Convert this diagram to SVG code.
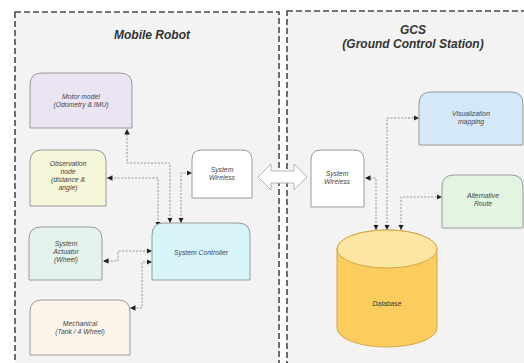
<svg xmlns="http://www.w3.org/2000/svg" width="524" height="363" viewBox="0 0 524 363">
<style>
.panel{fill:#f3f3f3;stroke:#4a4a4a;stroke-width:1.6;stroke-dasharray:6,3}
.title{font-family:"Liberation Sans",Arial,sans-serif;font-size:12px;font-weight:bold;font-style:italic;fill:#333;text-anchor:middle}
.node{stroke:#9a9a9a;stroke-width:1}
.lbl{font-family:"Liberation Sans",Arial,sans-serif;font-size:6.8px;font-style:italic;fill:#444;text-anchor:middle}
.conn{fill:none;stroke:#7a7a7a;stroke-width:0.8;stroke-dasharray:2,1.5;marker-start:url(#arr);marker-end:url(#arr)}
</style>
<defs>
<marker id="arr" viewBox="0 0 6 6" refX="6" refY="3" markerUnits="userSpaceOnUse" markerWidth="5.5" markerHeight="5.5" orient="auto-start-reverse">
<path d="M0,0 L6,3 L0,6 z" fill="#222"/>
</marker>
</defs>
<rect width="524" height="363" fill="#fff"/>
<g id="panel-robot">
<rect class="panel" x="15" y="12" width="264" height="360"/>
<text class="title" x="152" y="39">Mobile Robot</text>
</g>
<g id="panel-gcs">
<rect class="panel" x="287" y="11" width="250" height="360"/>
<text class="title" x="413" y="34">GCS</text>
<text class="title" x="413" y="48">(Ground Control Station)</text>
</g>
<g id="connectors">
<path class="conn" d="M170,223 V163 H127 V129"/>
<path class="conn" d="M181,223 V173 H192"/>
<path class="conn" d="M158,227 V178 H107"/>
<path class="conn" d="M152,251 H118 V261 H103"/>
<path class="conn" d="M152,262 H142 V308 H130"/>
<path class="conn" d="M376,230 V178 H365"/>
<path class="conn" d="M387,230 V118 H419"/>
<path class="conn" d="M401,230 V197 H442"/>
<path d="M258,177 L271,164 V171 H294 V164 L307,177 L294,190 V183 H271 V190 Z" fill="#fff" stroke="#b5b5b5" stroke-width="1"/>
</g>
<g id="motor-model">
<path class="node" fill="#ebe4f3" d="M30,85 Q30,73 42,73 H120 Q132,73 132,85 V128 H30 Z"/>
<text class="lbl" x="81" y="99">Motor model</text>
<text class="lbl" x="81" y="107">(Odometry &amp; IMU)</text>
</g>
<g id="observation-node">
<path class="node" fill="#f6f6d9" d="M30,162 Q30,150 42,150 H94 Q106,150 106,162 V206 H30 Z"/>
<text class="lbl" x="68" y="166">Observation</text>
<text class="lbl" x="68" y="174">node</text>
<text class="lbl" x="68" y="182">(distance &amp;</text>
<text class="lbl" x="68" y="190">angle)</text>
</g>
<g id="system-actuator">
<path class="node" fill="#e3f3ec" d="M29,239 Q29,227 41,227 H90 Q102,227 102,239 V280 H29 Z"/>
<text class="lbl" x="66" y="246">System</text>
<text class="lbl" x="66" y="254">Actuator</text>
<text class="lbl" x="66" y="262">(Wheel)</text>
</g>
<g id="mechanical">
<path class="node" fill="#fbf4e8" d="M30,312 Q30,300 42,300 H118 Q130,300 130,312 V355 H30 Z"/>
<text class="lbl" x="80" y="326">Mechanical</text>
<text class="lbl" x="80" y="334">(Tank / 4 Wheel)</text>
</g>
<g id="system-controller">
<path class="node" fill="#d6f4fa" d="M152,235 Q152,223 164,223 H238 Q250,223 250,235 V280 H152 Z"/>
<text class="lbl" x="201" y="255">System Controller</text>
</g>
<g id="system-wireless-robot">
<path class="node" fill="#fff" d="M192,160 Q192,150 202,150 H242 Q252,150 252,160 V198 H192 Z"/>
<text class="lbl" x="222" y="172">System</text>
<text class="lbl" x="222" y="180">Wireless</text>
</g>
<g id="system-wireless-gcs">
<path class="node" fill="#fff" d="M311,160 Q311,150 321,150 H354 Q364,150 364,160 V207 H311 Z"/>
<text class="lbl" x="337" y="176">System</text>
<text class="lbl" x="337" y="184">Wireless</text>
</g>
<g id="visualization-mapping">
<path class="node" fill="#d4e8f8" d="M419,104 Q419,92 431,92 H511 Q523,92 523,104 V145 H419 Z"/>
<text class="lbl" x="471" y="116">Visualization</text>
<text class="lbl" x="471" y="124">mapping</text>
</g>
<g id="alternative-route">
<path class="node" fill="#e2f5e2" d="M442,187 Q442,175 454,175 H511 Q523,175 523,187 V228 H442 Z"/>
<text class="lbl" x="483" y="198">Alternative</text>
<text class="lbl" x="483" y="206">Route</text>
</g>
<g id="database">
<path d="M337,249 A50,19 0 0 1 437,249 V328 A50,19 0 0 1 337,328 Z" fill="#fbcd5e" stroke="#d4a548" stroke-width="1"/>
<ellipse cx="387" cy="249" rx="50" ry="19" fill="#fde5a2" stroke="#d4a548" stroke-width="1"/>
<text class="lbl" x="387" y="306" style="fill:#333">Database</text>
</g>
</svg>
